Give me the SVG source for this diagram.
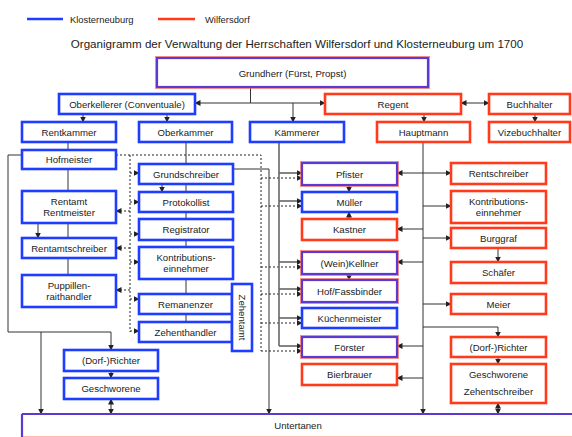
<svg xmlns="http://www.w3.org/2000/svg" width="572" height="437" viewBox="0 0 572 437">
<style>
text{font-family:"Liberation Sans",Arial,sans-serif;font-size:9.6px;fill:#222;text-anchor:middle;dominant-baseline:central}
.b{fill:#fff;stroke:#1f3dff;stroke-width:2.6}
.r{fill:#fff;stroke:#ff3b1c;stroke-width:2.6}
.p{fill:#fff;stroke:#5b3ad2;stroke-width:2.2}
.po{fill:none;stroke:#ff6a55;stroke-width:1;opacity:.7}
.c{fill:none;stroke:#333;stroke-width:1}
.k{fill:none;stroke:#666;stroke-width:1.6}
.d{fill:none;stroke:#222;stroke-width:1;stroke-dasharray:2,2}
.t{font-size:11.6px}
.l{text-anchor:start;font-size:9.4px}
</style>
<defs>
<marker id="a" markerUnits="userSpaceOnUse" markerWidth="6" markerHeight="6" refX="5.5" refY="3" orient="auto-start-reverse"><path d="M0,0 L6,3 L0,6 z" fill="#222"/></marker>
</defs>
<g id="legend">
<line x1="27" y1="19" x2="63" y2="19" stroke="#1f3dff" stroke-width="2.6"/>
<text class="l" x="70" y="19">Klosterneuburg</text>
<line x1="158" y1="19" x2="195" y2="19" stroke="#ff3b1c" stroke-width="2.6"/>
<text class="l" x="205" y="19">Wilfersdorf</text>
</g>
<text class="t" x="297" y="43">Organigramm der Verwaltung der Herrschaften Wilfersdorf und Klosterneuburg um 1700</text>
<g id="connectors">
<path class="c" d="M250.5,87 V103"/>
<path class="c" d="M250.5,103 H195" marker-end="url(#a)"/>
<path class="c" d="M250.5,103 H325" marker-end="url(#a)"/>
<path class="c" d="M293,103 V122" marker-end="url(#a)"/>
<path class="c" d="M461,103 H489" marker-start="url(#a)" marker-end="url(#a)"/>
<path class="c" d="M83,114 V122" marker-end="url(#a)"/>
<path class="c" d="M167,114 V122" marker-end="url(#a)"/>
<path class="c" d="M424,114 V122" marker-end="url(#a)"/>
<path class="c" d="M535,114 V122" marker-end="url(#a)"/>
<path class="c" d="M68,142 V150 M68,169 V191 M68,223 V238 M68,258 V275"/>
<path class="c" d="M38,223 V238" marker-end="url(#a)"/>
<path class="c" d="M22,155 H8 V332 H111 V350" marker-end="url(#a)"/>
<path class="c" d="M41,332 V414" marker-end="url(#a)"/>
<path class="c" d="M111,371 V378" marker-end="url(#a)"/>
<path class="c" d="M111,399 V414" marker-start="url(#a)" marker-end="url(#a)"/>
<path class="c" d="M186,142 V164 M186,184 V192 M186,212 V219 M186,240 V247 M186,279 V294 M186,314 V322"/>
<path class="c" d="M162,184 V192" marker-end="url(#a)"/>
<path class="c" d="M233,169 H269 V414" marker-end="url(#a)"/>
<path class="d" d="M116,155 H261 V351"/>
<path class="d" d="M130,155 V332"/>
<path class="d" d="M130,173 H139" marker-end="url(#a)"/>
<path class="d" d="M130,202 H139" marker-end="url(#a)"/>
<path class="d" d="M130,234 H139" marker-end="url(#a)"/>
<path class="d" d="M130,262 H139" marker-end="url(#a)"/>
<path class="d" d="M130,299 H139" marker-end="url(#a)"/>
<path class="d" d="M130,331 H139" marker-end="url(#a)"/>
<path class="d" d="M130,211 H116" marker-end="url(#a)"/>
<path class="d" d="M130,248 H116" marker-end="url(#a)"/>
<path class="d" d="M130,290 H116" marker-end="url(#a)"/>
<path class="d" d="M261,178 H302" marker-end="url(#a)"/>
<path class="d" d="M261,206 H302" marker-end="url(#a)"/>
<path class="d" d="M261,267 H302" marker-end="url(#a)"/>
<path class="d" d="M261,294 H302" marker-end="url(#a)"/>
<path class="d" d="M261,323 H302" marker-end="url(#a)"/>
<path class="d" d="M261,351 H302" marker-end="url(#a)"/>
<path class="k" d="M279,142 V346"/>
<path class="k" d="M279,173 H302" marker-end="url(#a)"/>
<path class="k" d="M279,201 H302" marker-end="url(#a)"/>
<path class="k" d="M279,262 H302" marker-end="url(#a)"/>
<path class="k" d="M279,289 H302" marker-end="url(#a)"/>
<path class="k" d="M279,318 H302" marker-end="url(#a)"/>
<path class="k" d="M279,346 H302" marker-end="url(#a)"/>
<path class="c" d="M349,185 V192" marker-end="url(#a)"/>
<path class="c" d="M349,219 V212" marker-end="url(#a)"/>
<path class="c" d="M349,274 V280" marker-end="url(#a)"/>
<path class="c" d="M423,142 V414" marker-end="url(#a)"/>
<path class="c" d="M397,173 H451" marker-start="url(#a)" marker-end="url(#a)"/>
<path class="c" d="M423,206 H451" marker-end="url(#a)"/>
<path class="c" d="M423,229 H397" marker-end="url(#a)"/>
<path class="c" d="M423,238 H451" marker-end="url(#a)"/>
<path class="c" d="M423,262 H397" marker-end="url(#a)"/>
<path class="c" d="M423,304 H451" marker-end="url(#a)"/>
<path class="c" d="M423,327 H498 V337" marker-end="url(#a)"/>
<path class="c" d="M423,346 H397" marker-end="url(#a)"/>
<path class="c" d="M423,378 H397" marker-end="url(#a)"/>
<path class="c" d="M498,248 V262" marker-end="url(#a)"/>
<path class="c" d="M498,357 V364" marker-end="url(#a)"/>
<path class="c" d="M498,403 V414" marker-start="url(#a)" marker-end="url(#a)"/>
</g>
<g id="grundherr"><rect class="po" x="155.5" y="56.5" width="274" height="32"/><rect class="p" x="157" y="58" width="271" height="29"/><text x="292.5" y="73">Grundherr (Fürst, Propst)</text></g>
<g id="oberkellerer"><rect class="b" x="59" y="94" width="136" height="20"/><text x="127" y="104">Oberkellerer (Conventuale)</text></g>
<g id="regent"><rect class="r" x="325" y="94" width="136" height="20"/><text x="393" y="104">Regent</text></g>
<g id="buchhalter"><rect class="r" x="489" y="94" width="81" height="20"/><text x="529.5" y="104">Buchhalter</text></g>
<g id="rentkammer"><rect class="b" x="22" y="122" width="94" height="20"/><text x="69" y="132">Rentkammer</text></g>
<g id="oberkammer"><rect class="b" x="139" y="122" width="93" height="20"/><text x="185.5" y="132">Oberkammer</text></g>
<g id="kaemmerer"><rect class="b" x="250" y="122" width="94" height="20"/><text x="297" y="132">Kämmerer</text></g>
<g id="hauptmann"><rect class="r" x="377" y="122" width="93" height="20"/><text x="423.5" y="132">Hauptmann</text></g>
<g id="vizebuchhalter"><rect class="r" x="489" y="122" width="81" height="20"/><text x="529.5" y="132">Vizebuchhalter</text></g>
<g id="hofmeister"><rect class="b" x="22" y="150" width="94" height="19"/><text x="69" y="159.5">Hofmeister</text></g>
<g id="rentamt"><rect class="b" x="22" y="191" width="94" height="32"/><text x="69" y="201.5">Rentamt</text><text x="69" y="212.5">Rentmeister</text></g>
<g id="rentamtschreiber"><rect class="b" x="22" y="238" width="94" height="20"/><text x="69" y="248">Rentamtschreiber</text></g>
<g id="puppillen"><rect class="b" x="22" y="275" width="94" height="32"/><text x="69" y="285.5">Puppillen-</text><text x="69" y="296.5">raithandler</text></g>
<g id="richter-k"><rect class="b" x="64" y="350" width="94" height="21"/><text x="111" y="360.5">(Dorf-)Richter</text></g>
<g id="geschworene-k"><rect class="b" x="64" y="378" width="94" height="21"/><text x="111" y="388.5">Geschworene</text></g>
<g id="grundschreiber"><rect class="b" x="139" y="164" width="94" height="20"/><text x="186" y="174">Grundschreiber</text></g>
<g id="protokollist"><rect class="b" x="139" y="192" width="94" height="20"/><text x="186" y="202">Protokollist</text></g>
<g id="registrator"><rect class="b" x="139" y="219" width="94" height="21"/><text x="186" y="229.5">Registrator</text></g>
<g id="kontributions-k"><rect class="b" x="139" y="247" width="94" height="32"/><text x="186" y="257.5">Kontributions-</text><text x="186" y="268.5">einnehmer</text></g>
<g id="remanenzer"><rect class="b" x="139" y="294" width="93" height="20"/><text x="185.5" y="304">Remanenzer</text></g>
<g id="zehenthandler"><rect class="b" x="139" y="322" width="93" height="20"/><text x="185.5" y="332">Zehenthandler</text></g>
<g id="zehentamt"><rect class="b" x="232" y="284" width="20" height="67"/><text transform="translate(242,317.5) rotate(90)">Zehentamt</text></g>
<g id="pfister"><rect class="po" x="300.5" y="161.5" width="98" height="25"/><rect class="p" x="302" y="163" width="95" height="22"/><text x="349.5" y="174">Pfister</text></g>
<g id="mueller"><rect class="b" x="302" y="192" width="95" height="20"/><text x="349.5" y="202">Müller</text></g>
<g id="kastner"><rect class="r" x="302" y="219" width="95" height="21"/><text x="349.5" y="229.5">Kastner</text></g>
<g id="kellner"><rect class="po" x="300.5" y="250.5" width="98" height="25"/><rect class="p" x="302" y="252" width="95" height="22"/><text x="349.5" y="263">(Wein)Kellner</text></g>
<g id="fassbinder"><rect class="po" x="300.5" y="278.5" width="98" height="25"/><rect class="p" x="302" y="280" width="95" height="22"/><text x="349.5" y="291">Hof/Fassbinder</text></g>
<g id="kuechenmeister"><rect class="b" x="302" y="308" width="95" height="20"/><text x="349.5" y="318">Küchenmeister</text></g>
<g id="foerster"><rect class="po" x="300.5" y="335.5" width="98" height="23"/><rect class="p" x="302" y="337" width="95" height="20"/><text x="349.5" y="347">Förster</text></g>
<g id="bierbrauer"><rect class="r" x="302" y="364" width="95" height="21"/><text x="349.5" y="374.5">Bierbrauer</text></g>
<g id="rentschreiber"><rect class="r" x="451" y="163" width="95" height="21"/><text x="498.5" y="173.5">Rentschreiber</text></g>
<g id="kontributions-w"><rect class="r" x="451" y="191" width="95" height="32"/><text x="498.5" y="201.5">Kontributions-</text><text x="498.5" y="212.5">einnehmer</text></g>
<g id="burggraf"><rect class="r" x="451" y="228" width="95" height="20"/><text x="498.5" y="238">Burggraf</text></g>
<g id="schaefer"><rect class="r" x="451" y="262" width="95" height="21"/><text x="498.5" y="272.5">Schäfer</text></g>
<g id="meier"><rect class="r" x="451" y="294" width="95" height="20"/><text x="498.5" y="304">Meier</text></g>
<g id="richter-w"><rect class="r" x="451" y="337" width="95" height="20"/><text x="498.5" y="347">(Dorf-)Richter</text></g>
<g id="geschworene-w"><rect class="r" x="451" y="364" width="95" height="39"/><text x="498.5" y="374.5">Geschworene</text><text x="498.5" y="391.5">Zehentschreiber</text></g>
<g id="untertanen"><rect x="22" y="414" width="560" height="23" fill="#fff" stroke="#ff8a7a" stroke-width="1.2"/><line x1="22" y1="414" x2="572" y2="414" stroke="#5b3ad2" stroke-width="2.2"/><line x1="22" y1="414" x2="22" y2="437" stroke="#5b3ad2" stroke-width="2.2"/><text x="298" y="425.5">Untertanen</text></g>
</svg>
